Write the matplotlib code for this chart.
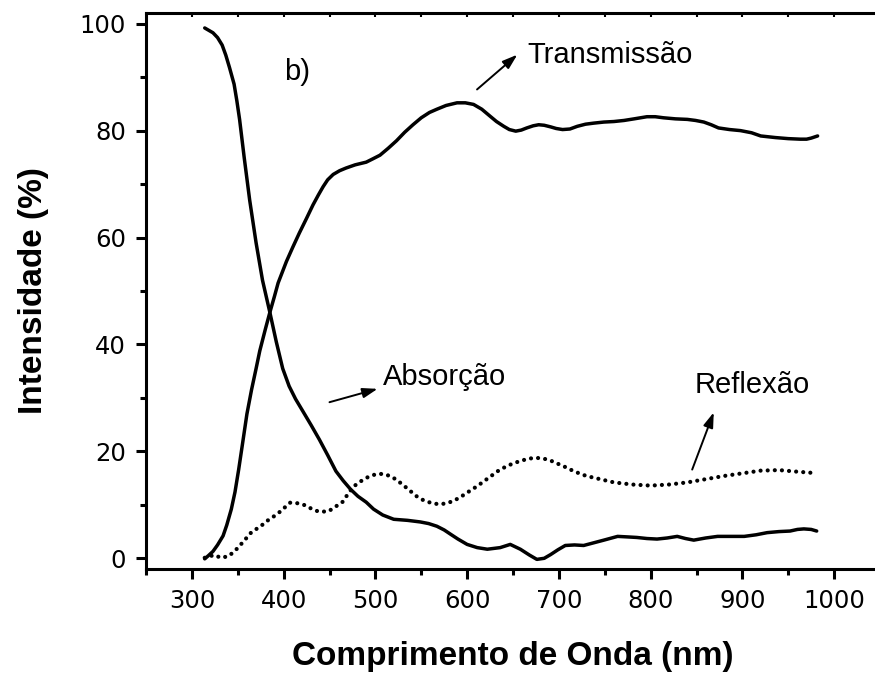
import matplotlib
matplotlib.use("Agg")
import matplotlib.pyplot as plt
from matplotlib.ticker import MultipleLocator

# ---- data ----
abs_wl = [314, 318, 323, 328, 333, 337, 341, 346, 349, 352, 357, 363, 370, 377, 385, 392, 399, 406,
          413, 421, 430, 439, 448, 457, 465, 473, 481, 490, 498, 508, 520, 535, 549, 558, 567,
          575, 582, 590, 600, 611, 622, 636, 647, 658, 668, 676, 684, 691, 699, 707, 717, 727,
          738, 749, 764, 775, 785, 796, 807, 818, 829, 838, 847, 860, 873, 887, 902, 915, 927,
          940, 952, 960, 967, 975, 981]
abs_val = [99.2, 98.8, 98.3, 97.4, 96.0, 94.1, 91.8, 88.7, 85.6, 82.1, 75.0, 67.0, 59.0, 52.0, 46.0, 40.5, 35.5, 32.2,
           29.8, 27.5, 24.9, 22.2, 19.3, 16.3, 14.5, 12.9, 11.6, 10.5, 9.2, 8.1, 7.3, 7.1, 6.8, 6.5, 6.0,
           5.3, 4.5, 3.6, 2.6, 2.0, 1.7, 2.0, 2.6, 1.7, 0.6, -0.2, 0.0, 0.7, 1.6, 2.4, 2.5, 2.4,
           2.9, 3.4, 4.1, 4.0, 3.9, 3.7, 3.6, 3.8, 4.1, 3.7, 3.4, 3.8, 4.1, 4.1, 4.1, 4.4, 4.8,
           5.0, 5.1, 5.4, 5.5, 5.4, 5.1]

tr_wl = [314, 318, 323, 328, 334, 338, 343, 347, 351, 355, 360, 365, 370, 374, 380, 385, 390, 394,
         403, 410, 417, 425, 432, 438, 443, 448, 454, 461, 468, 478, 490, 497, 505, 514, 523, 532,
         541, 550, 559, 567, 577, 589, 598, 607, 616, 625, 632, 640, 646, 653, 659, 665, 672, 678,
         684, 691, 697, 704, 712, 720, 729, 738, 749, 760, 771, 782, 796, 805, 814, 827, 840, 849,
         858, 866, 874, 886, 898, 910, 920, 936, 950, 963, 970, 975, 982]
tr_val = [-0.1, 0.5, 1.3, 2.5, 4.2, 6.2, 9.2, 12.4, 16.6, 21.2, 27.0, 31.5, 35.5, 38.8, 42.8, 46.0, 49.0, 51.5,
          55.5, 58.2, 60.8, 63.6, 66.1, 68.0, 69.5, 70.8, 71.8, 72.5, 73.0, 73.6, 74.1, 74.7, 75.4, 76.7, 78.1, 79.7,
          81.1, 82.4, 83.4, 84.0, 84.7, 85.2, 85.2, 84.9, 84.0, 82.7, 81.7, 80.8, 80.2, 79.9, 80.1, 80.5, 80.9, 81.1,
          81.0, 80.7, 80.4, 80.2, 80.3, 80.8, 81.2, 81.4, 81.6, 81.7, 81.9, 82.2, 82.6, 82.6, 82.4, 82.2, 82.1, 81.9,
          81.6, 81.1, 80.5, 80.2, 80.0, 79.6, 79.0, 78.7, 78.5, 78.4, 78.4, 78.6, 79.0]

ref_wl = [314, 324, 332, 340, 347, 355, 365, 375, 382, 389, 396, 407, 415, 424, 433,
          440, 449, 456, 464, 470, 476, 484, 492, 500, 508, 516, 523, 531, 538, 545, 553, 562, 570, 578,
          586, 594, 602, 611, 619, 627, 635, 644, 651, 658, 666, 674, 682, 689, 695, 700, 708, 715, 722, 730,
          745, 760, 780, 800, 820, 840, 860, 880, 900, 920, 940, 960, 975]
ref_val = [0.1, 0.6, 0.1, 0.4, 1.4, 2.9, 4.9, 6.0, 7.0, 7.8, 8.7, 10.4, 10.3, 9.9, 9.0,
           8.7, 8.8, 9.6, 10.5, 12.0, 13.4, 14.4, 15.2, 15.7, 15.8, 15.4, 14.7, 13.6, 12.6, 11.6, 10.8, 10.3, 10.1, 10.3,
           10.8, 11.6, 12.5, 13.5, 14.5, 15.5, 16.5, 17.3, 17.8, 18.2, 18.6, 18.8, 18.7, 18.4, 18.0, 17.6, 17.0, 16.4, 15.9, 15.4,
           14.8, 14.2, 13.8, 13.6, 13.8, 14.2, 14.8, 15.4, 15.9, 16.4, 16.5, 16.2, 16.0]

x_ticks = [300, 400, 500, 600, 700, 800, 900, 1000]
y_ticks = [0, 20, 40, 60, 80, 100]

# ---- figure ----
fig = plt.figure(figsize=(8.75, 6.79), dpi=100)
ax = fig.add_axes([146 / 875, 110 / 679, 734 / 875, 556 / 679])

ax.plot(abs_wl, abs_val, color="black", lw=2.5, solid_capstyle="round", solid_joinstyle="round")
ax.plot(tr_wl, tr_val, color="black", lw=2.5, solid_capstyle="round", solid_joinstyle="round")
ax.plot(ref_wl, ref_val, color="black", lw=3.0, linestyle=(0, (0.01, 1.7)),
        dash_capstyle="round")

ax.set_xlim(250, 1050)
ax.set_ylim(-2, 102)
ax.set_xticks(x_ticks)
ax.set_yticks(y_ticks)
ax.xaxis.set_minor_locator(MultipleLocator(50))
ax.yaxis.set_minor_locator(MultipleLocator(10))

for s in ax.spines.values():
    s.set_linewidth(2.2)

ax.tick_params(axis="both", which="major", direction="out", length=7.5, width=2.2,
               top=False, right=False, pad=7)
ax.tick_params(axis="both", which="minor", direction="out", length=4, width=2.2,
               top=False, right=False)
for lab in ax.get_xticklabels() + ax.get_yticklabels():
    lab.set_fontfamily("DejaVu Sans")
    lab.set_fontsize(17.5)

# small inward ticks on the top spine
sec = ax.secondary_xaxis("top")
sec.set_xticks(list(range(300, 1051, 50)))
sec.tick_params(direction="in", length=3, width=1.5, labeltop=False)
sec.spines["top"].set_visible(False)

label_font = dict(family="Liberation Sans", size=24, weight="bold")
ax.set_xlabel("Comprimento de Onda (nm)", labelpad=20, **label_font)
ax.set_ylabel("Intensidade (%)", labelpad=22, **label_font)

ann_font = dict(family="Liberation Sans", size=21, color="black")
ax.text(665.5, 92.7, "Transmissão", ha="left", va="baseline", **ann_font)
ax.text(508.5, 32.5, "Absorção", ha="left", va="baseline", **ann_font)
ax.text(848.5, 31.0, "Reflexão", ha="left", va="baseline", **ann_font)
ax.text(400.5, 89.5, "b)", ha="left", va="baseline", **ann_font)

arrow = dict(arrowstyle="-|>,head_length=0.9,head_width=0.3", color="black", lw=1.4,
             shrinkA=0, shrinkB=0)
ax.annotate("", xy=(654.7, 94.2), xytext=(610.8, 87.7), arrowprops=arrow)
ax.annotate("", xy=(502.4, 31.7), xytext=(450.0, 29.2), arrowprops=arrow)
ax.annotate("", xy=(868.8, 27.3), xytext=(845.3, 16.6), arrowprops=arrow)

fig.savefig("out.png", dpi=100)
